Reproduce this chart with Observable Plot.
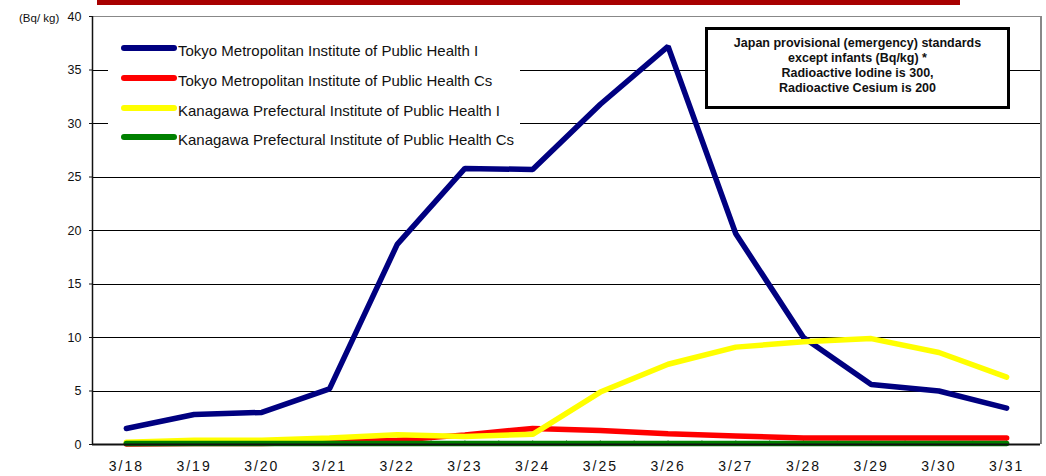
<!DOCTYPE html>
<html>
<head>
<meta charset="utf-8">
<script src="https://cdn.jsdelivr.net/npm/d3@7"></script>
<script src="https://cdn.jsdelivr.net/npm/@observablehq/plot@0.6"></script>
<style>
  html, body { margin: 0; padding: 0; background: #fff; }
  #wrap { position: relative; width: 1046px; height: 476px; overflow: hidden; font-family: "Liberation Sans", Arial, sans-serif; }
  #topbar { position: absolute; left: 97px; top: 0; width: 863px; height: 5px; background: #a80000; }
  #legend { position: absolute; left: 108px; top: 30px; width: 412px; height: 122px; background: #fff; }
  .item { position: absolute; left: 13px; height: 20px; }
  .sw { position: absolute; left: 0; top: -3px; width: 56px; height: 6px; border-radius: 3px; }
  .lt { position: absolute; left: 57px; top: -6px; font-size: 15px; line-height: 17px; color: #111; white-space: nowrap; }
  #note { position: absolute; left: 705px; top: 27px; width: 299px; height: 70px; border: 3px solid #000; background: #fff;
          font-weight: bold; font-size: 12.5px; line-height: 15px; text-align: center; color: #111; padding-top: 6px; box-sizing: content-box; }
  #unit { position: absolute; left: 19px; top: 12px; font-size: 11.5px; color: #111; }
  #chart g[aria-label="x-axis tick label"] text { font-size: 14px !important; letter-spacing: 2px; fill: #111; }
  #chart g[aria-label="y-axis tick label"] text { font-size: 12.5px !important; fill: #111; }
</style>
</head>
<body>
<div id="wrap">
  <div id="chart"></div>
  <div id="topbar"></div>
  <div id="unit">(Bq/ kg)</div>
  <div id="legend"></div>
  <div id="note"></div>
</div>
<script>
const dates = ["3/18","3/19","3/20","3/21","3/22","3/23","3/24","3/25","3/26","3/27","3/28","3/29","3/30","3/31"];
const tokyoI  = [1.5, 2.8, 3.0, 5.2, 18.7, 25.8, 25.7, 31.8, 37.2, 19.7, 10.0, 5.6, 5.0, 3.4];
const tokyoCs = [0.05, 0.1, 0.1, 0.2, 0.4, 0.9, 1.5, 1.3, 1.0, 0.8, 0.6, 0.6, 0.6, 0.6];
const kanaI   = [0.2, 0.4, 0.4, 0.6, 0.9, 0.75, 0.95, 4.9, 7.5, 9.1, 9.6, 9.9, 8.6, 6.3];
const kanaCs  = [0.1, 0.1, 0.1, 0.1, 0.1, 0.1, 0.1, 0.1, 0.1, 0.1, 0.1, 0.1, 0.1, 0.1];
const seriesNames = [
  "Tokyo Metropolitan Institute of Public Health I",
  "Tokyo Metropolitan Institute of Public Health Cs",
  "Kanagawa Prefectural Institute of Public Health I",
  "Kanagawa Prefectural Institute of Public Health Cs"
];
const seriesColors = ["#000080", "#ff0000", "#ffff00", "#008000"];
const seriesValues = [tokyoI, tokyoCs, kanaI, kanaCs];
const yTicks = [0, 5, 10, 15, 20, 25, 30, 35, 40];
const noteLines = [
  "Japan provisional (emergency) standards",
  "except infants (Bq/kg) *",
  "Radioactive Iodine is 300,",
  "Radioactive Cesium is 200"
];

const idx = dates.map((d, i) => i);
const rows = seriesValues.map((vals, s) => vals.map((v, i) => ({i, v, s})));
const minor = idx.flatMap(i => [i - 0.5, i]).concat([idx.length - 0.5]);

const chart = Plot.plot({
  width: 1046,
  height: 476,
  marginTop: 16,
  marginBottom: 32,
  marginLeft: 92,
  marginRight: 6,
  style: {fontFamily: "'Liberation Sans', Arial, sans-serif", fontSize: "12px", color: "#111", background: "#fff"},
  x: {type: "linear", domain: [-0.5, idx.length - 0.5], label: null},
  y: {domain: [0, 40], label: null},
  marks: [
    Plot.ruleY(yTicks.filter(t => t > 0 && t < 40), {stroke: "#000", strokeWidth: 1, shapeRendering: "crispEdges"}),
    Plot.ruleY([40], {stroke: "#888", strokeWidth: 1, shapeRendering: "crispEdges"}),
    Plot.ruleX([idx.length - 0.5], {stroke: "#888", strokeWidth: 2, shapeRendering: "crispEdges"}),
    Plot.ruleX(minor, {y1: 0, y2: 0.35, stroke: "#777", strokeWidth: 1}),
    ...rows.map((r, s) => Plot.line(r, {x: "i", y: "v", stroke: seriesColors[s], strokeWidth: 5.5, strokeLinecap: "round", strokeLinejoin: "miter"})),
    Plot.ruleX([-0.5], {stroke: "#111", strokeWidth: 1.5}),
    Plot.ruleY([0], {stroke: "#111", strokeWidth: 2}),
    Plot.axisY({ticks: yTicks, tickSize: 3, tickPadding: 8, stroke: "#111", label: null}),
    Plot.axisX({ticks: idx, tickSize: 0, tickPadding: 17, tickFormat: i => dates[i], label: null})
  ]
});
document.getElementById("chart").appendChild(chart);

const legend = document.getElementById("legend");
const legendCenters = [18, 48, 78, 107];
seriesNames.forEach((name, s) => {
  const it = document.createElement("div");
  it.className = "item";
  it.style.top = legendCenters[s] + "px";
  const sw = document.createElement("div");
  sw.className = "sw";
  sw.style.background = seriesColors[s];
  const lt = document.createElement("div");
  lt.className = "lt";
  lt.textContent = name;
  it.appendChild(sw); it.appendChild(lt);
  legend.appendChild(it);
});
document.getElementById("note").innerHTML = noteLines.map(l => `<div>${l}</div>`).join("");
</script>
</body>
</html>
